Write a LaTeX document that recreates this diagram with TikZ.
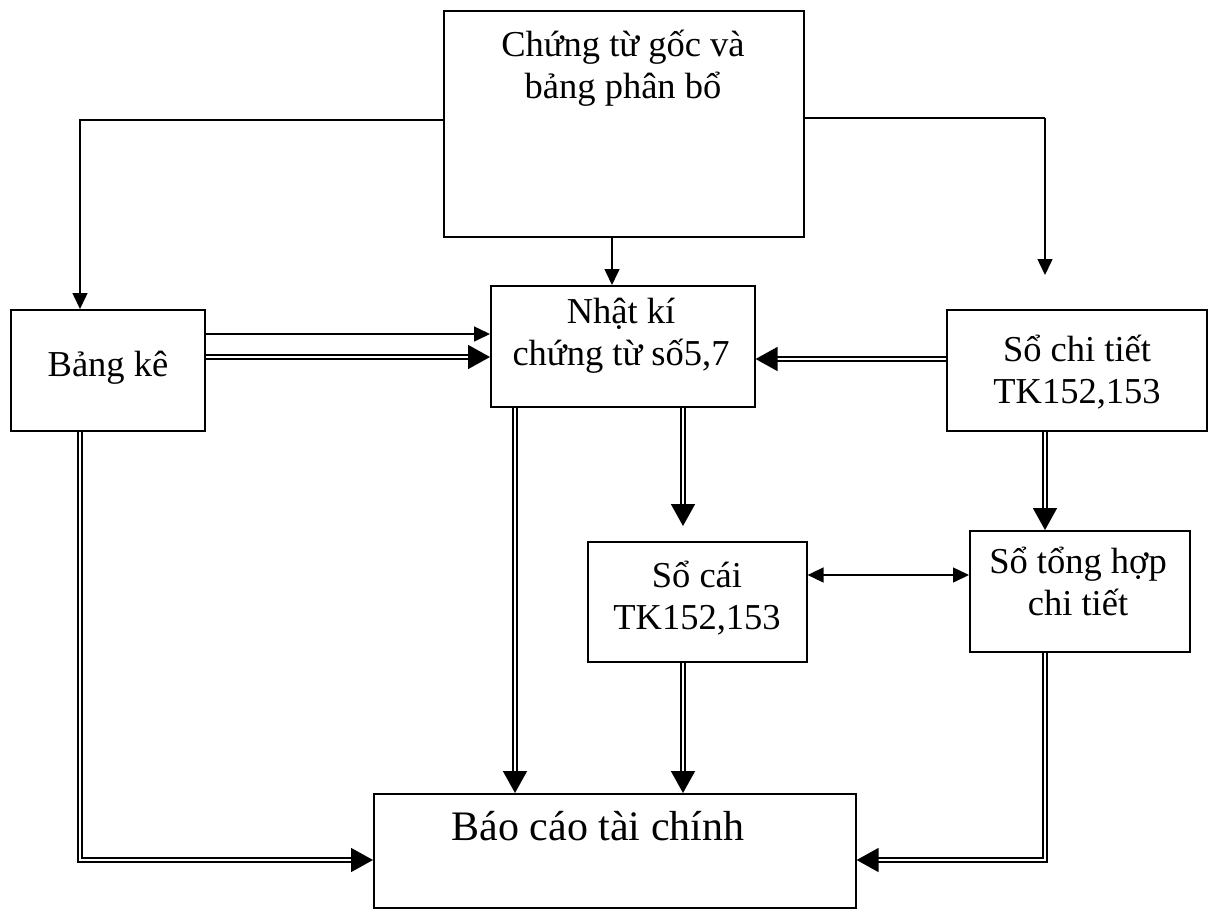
\documentclass[tikz,border=0pt]{standalone}
\usepackage{fontspec}
\setmainfont{Liberation Serif}
\usetikzlibrary{arrows.meta}
\begin{document}
\begin{tikzpicture}[x=1pt,y=-1pt,
  box/.style={draw,line width=1.6pt,inner sep=0pt,anchor=north west},
  lbl/.style={align=center,font=\fontsize{36.5}{42}\selectfont,inner sep=0pt},
  single/.style={line width=1.5pt,-{Triangle[length=16pt,width=15pt]}},
  dbl/.style={double,line width=1.6pt,double distance=2pt,-{Triangle[length=22pt,width=24pt]}}]
\useasboundingbox (0,0) rectangle (1216,911);
% boxes
\node[box,minimum width=360pt,minimum height=226pt] (goc) at (443,10) {};
\node[box,minimum width=194pt,minimum height=121pt] (bk) at (10,309) {};
\node[box,minimum width=264pt,minimum height=121pt] (nk) at (490,285) {};
\node[box,minimum width=260pt,minimum height=121pt] (sct) at (946,309) {};
\node[box,minimum width=219pt,minimum height=120pt] (sc) at (587,541) {};
\node[box,minimum width=220pt,minimum height=121pt] (sth) at (969,530) {};
\node[box,minimum width=482pt,minimum height=114pt] (bc) at (373,793) {};
% labels
\node[lbl] (tgoc) at (623,68) {Chứng từ gốc và\\bảng phân bổ};
\node[lbl] (tbk) at (108,368) {Bảng kê};
\node[lbl] (tnk) at (621,336) {Nhật kí\\chứng từ số5,7};
\node[lbl] (tsct) at (1077,372) {Sổ chi tiết\\TK152,153};
\node[lbl] (tsc) at (697,598) {Sổ cái\\TK152,153};
\node[lbl] (tsth) at (1078,581) {Sổ tổng hợp\\chi tiết};
\node[lbl,font=\fontsize{42}{50}\selectfont] (tbc) at (598,826) {Báo cáo tài chính};
% connectors
\coordinate (p1) at (80,120);
\coordinate (p2) at (1045,118);
\coordinate (p3) at (1045,275);
\draw[single] (goc.west |- p1) -| (bk.north -| p1);
\draw[single] (goc.south -| 612,0) -- (nk.north -| 612,0);
\draw[line width=1.5pt] (goc.east |- p2) -- (p2);
\draw[single] (p2) -- (p3);
\draw[single] (bk.east |- 0,334) -- (nk.west |- 0,334);
\draw[dbl] (bk.east |- 0,357) -- (nk.west |- 0,357);
\draw[dbl] (sct.west |- 0,359) -- (nk.east |- 0,359);
\draw[dbl,shorten >=15pt] (nk.south -| 683,0) -- (sc.north -| 683,0);
\draw[dbl] (sct.south -| 1045,0) -- (sth.north -| 1045,0);
\draw[line width=1.5pt,{Triangle[length=16pt,width=15pt]}-{Triangle[length=16pt,width=15pt]}] (sc.east |- 0,575) -- (sth.west |- 0,575);
\draw[dbl] (nk.south -| 515,0) -- (bc.north -| 515,0);
\draw[dbl] (sc.south -| 683,0) -- (bc.north -| 683,0);
\coordinate (q1) at (80,860);
\coordinate (q2) at (1045,860);
\draw[dbl] (bk.south -| q1) |- (bc.west |- q1);
\draw[dbl] (sth.south -| q2) |- (bc.east |- q2);
\end{tikzpicture}
\end{document}
